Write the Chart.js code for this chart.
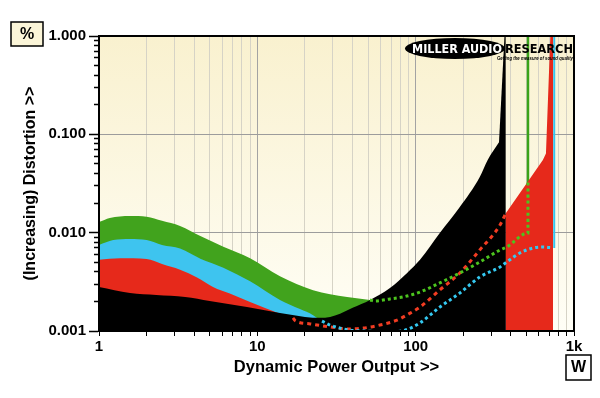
<!DOCTYPE html>
<html><head><meta charset="utf-8">
<script src="https://cdn.jsdelivr.net/npm/chart.js@4.4.1/dist/chart.umd.min.js"></script>
<style>html,body{margin:0;padding:0;background:#fff;}#wrap{width:600px;height:398px;}</style>
</head><body><div id="wrap"><canvas id="c" width="600" height="398"></canvas></div>
<script>
// ---- data (power in W, distortion in %) ----
const blackW   = [1, 1.57, 2.3, 3.5, 5.0, 8.6, 13.9, 20, 24.9, 28.8, 33.3, 40, 51.5, 68.8, 88.3, 106.5, 142, 190, 254, 285, 336, 366, 371];
const blackPct = [0.0028, 0.00243, 0.00232, 0.00222, 0.00202, 0.00175, 0.00152, 0.00139, 0.00136, 0.00139, 0.0015, 0.00172, 0.00207, 0.00274, 0.0039, 0.0053, 0.0099, 0.0182, 0.0368, 0.0548, 0.083, 1.2, 1.2];

const redW   = [1, 1.36, 2.0, 2.5, 3.25, 4.16, 5.25, 6.7, 9.0, 13.9, 16.8, 17.3, 21.6, 28.8, 36.9, 46.5, 59.5, 76.2, 92.3, 106.5, 142, 190, 254, 341, 371, 636, 665, 712, 737];
const redPct = [0.0053, 0.0055, 0.0054, 0.0048, 0.0042, 0.0035, 0.0028, 0.0024, 0.00197, 0.0015, 0.00136, 0.00128, 0.00118, 0.0011, 0.00105, 0.00107, 0.00115, 0.00129, 0.00152, 0.00175, 0.00261, 0.00389, 0.00667, 0.01196, 0.0158, 0.0548, 0.064, 1.2, 1.2];

const cyanW   = [1, 1.23, 1.57, 2.0, 2.5, 3.25, 4.4, 6.1, 9.0, 13.9, 18.6, 22.5, 25.6, 28.8, 33.3, 38.5, 47.7, 68.8, 85.6, 106.5, 142, 190, 254, 341, 376, 455, 551, 636, 737];
const cyanPct = [0.0075, 0.0084, 0.0086, 0.0084, 0.0075, 0.0069, 0.0054, 0.0044, 0.0032, 0.00207, 0.00167, 0.00145, 0.00126, 0.00115, 0.00107, 0.00102, 0.001, 0.00098, 0.00102, 0.00121, 0.00175, 0.00243, 0.00354, 0.00448, 0.00503, 0.00621, 0.00698, 0.00715, 0.00698];

const greenW   = [1, 1.17, 1.57, 2.0, 2.5, 3.25, 4.4, 6.1, 9.0, 13.9, 22.5, 36.9, 51.5, 55.3, 68.8, 83.3, 106.5, 142, 190, 254, 341, 376, 512];
const greenPct = [0.0128, 0.0141, 0.0148, 0.0145, 0.0132, 0.0117, 0.0092, 0.0072, 0.0055, 0.0036, 0.0026, 0.00222, 0.00207, 0.00202, 0.00212, 0.00222, 0.00249, 0.00308, 0.00389, 0.00503, 0.00667, 0.00715, 0.00993];

// limits / clipping points (W) and where each curve is hidden behind another
const blackEdgeW = 371, blackSpikeFromW = 336;
const greenLimitW = 512, greenHiddenTopPct = 0.033, greenHiddenFromW = 51.5;
const cyanLimitW = 750, cyanHiddenFromW = 25.6;
const redHiddenFromW = 16.8;
const spikeTopPct = 1.2;

// ticks
const xMajorTicks = [1, 10, 100, 1000];
const xTickLabels = ['1', '10', '100', '1k'];
const yMajorTicks = [0.001, 0.01, 0.1, 1];
const yTickLabels = ['0.001', '0.010', '0.100', '1.000'];

// ---- build ----
const pts = (W, P) => W.map((w, i) => ({x: w, y: P[i]}));
const minorTicks = majors => {
  const out = [];
  majors.forEach((m, k) => {
    if (k === majors.length - 1) { out.push(m); return; }
    for (let s = 1; s <= 9; s++) out.push(+(m * s).toPrecision(6));
  });
  return out;
};
const xAll = minorTicks(xMajorTicks), yAll = minorTicks(yMajorTicks);
const isDecade = v => v != null && Math.abs(Math.log10(v) - Math.round(Math.log10(v))) < 1e-6;
const labelFor = (majors, labels, v) => {
  const i = majors.findIndex(m => Math.abs(m - v) < 1e-6 * m);
  return i >= 0 ? labels[i] : '';
};

const fillDs = (label, data, color, order, smooth) => ({
  label, data, borderWidth: 0, borderColor: 'transparent', backgroundColor: color,
  fill: 'start', pointRadius: 0, tension: 0,
  cubicInterpolationMode: smooth ? 'monotone' : 'default', order, clip: 0
});
const lineDs = (label, data, color, width, dash, order) => ({
  label, data, borderColor: color, borderWidth: width, borderDash: dash, borderCapStyle: 'butt',
  fill: false, pointRadius: 0, cubicInterpolationMode: 'monotone', order, clip: 0
});

const blackAll = pts(blackW, blackPct), redAll = pts(redW, redPct);
const blackCurve = blackAll.filter(p => p.x <= blackSpikeFromW);
const blackSpike = blackAll.filter(p => p.x >= blackSpikeFromW);
const redCurve = redAll.filter(p => p.x <= blackEdgeW);
const redTail = redAll.filter(p => p.x >= blackEdgeW);

const redDotted = redAll.filter(p => p.x >= redHiddenFromW && p.x <= blackEdgeW);
const greenDotted = pts(greenW, greenPct).filter(p => p.x >= greenHiddenFromW).concat([{x: greenLimitW, y: greenHiddenTopPct}]);
const cyanDotted = pts(cyanW, cyanPct).filter(p => p.x >= cyanHiddenFromW);
const greenSpike = [{x: greenLimitW, y: greenPct[greenPct.length - 1]}, {x: greenLimitW, y: spikeTopPct}];
const cyanSpike = [{x: cyanLimitW, y: cyanPct[cyanPct.length - 1]}, {x: cyanLimitW, y: spikeTopPct}];

const FONT = '"Liberation Sans", Arial, sans-serif';

function fitText(ctx, txt, x, y, w, font, color) {
  ctx.save();
  ctx.font = font;
  const m = ctx.measureText(txt).width;
  ctx.translate(x, y);
  ctx.scale(w / m, 1);
  ctx.fillStyle = color;
  ctx.textBaseline = 'alphabetic';
  ctx.textAlign = 'left';
  ctx.fillText(txt, 0, 0);
  ctx.restore();
}

const decor = {
  id: 'decor',
  beforeDraw(chart) {
    const {ctx, chartArea: a} = chart;
    ctx.save();
    ctx.fillStyle = '#fff';
    ctx.fillRect(0, 0, chart.width, chart.height);
    const g = ctx.createLinearGradient(0, a.top, 0, a.bottom);
    g.addColorStop(0, '#f9f1cf');
    g.addColorStop(1, '#fffef6');
    ctx.fillStyle = g;
    ctx.fillRect(a.left, a.top, a.right - a.left, a.bottom - a.top);
    ctx.restore();
  },
  afterDraw(chart) {
    const {ctx, chartArea: a} = chart;
    ctx.save();
    // frame
    ctx.strokeStyle = '#000';
    ctx.lineWidth = 2;
    ctx.strokeRect(a.left, a.top, a.right - a.left, a.bottom - a.top);
    // logo
    ctx.fillStyle = '#000';
    ctx.beginPath();
    ctx.ellipse(455, 48.5, 50, 10.5, 0, 0, Math.PI * 2);
    ctx.fill();
    fitText(ctx, 'MILLER AUDIO', 412, 53, 90, 'bold 12px "DejaVu Sans", sans-serif', '#fff');
    fitText(ctx, 'RESEARCH', 505, 53, 68, 'bold 12px "DejaVu Sans", sans-serif', '#000');
    fitText(ctx, 'Getting the measure of sound quality', 497, 59.5, 76, 'italic bold 5px ' + FONT, '#000');
    // % box
    ctx.fillStyle = '#fbf5d8';
    ctx.fillRect(11, 22, 32, 24);
    ctx.lineWidth = 1.5;
    ctx.strokeRect(11, 22, 32, 24);
    ctx.fillStyle = '#000';
    ctx.font = 'bold 16px ' + FONT;
    ctx.textAlign = 'center';
    ctx.textBaseline = 'middle';
    ctx.fillText('%', 27, 34.5);
    // W box
    ctx.fillStyle = '#fff';
    ctx.fillRect(566, 355, 25, 25);
    ctx.strokeRect(566, 355, 25, 25);
    ctx.fillStyle = '#000';
    ctx.fillText('W', 578.5, 368);
    ctx.restore();
  }
};

new Chart(document.getElementById('c'), {
  type: 'line',
  data: {
    datasets: [
      fillDs('green', pts(greenW, greenPct), '#41a31d', 10, true),
      lineDs('green limit', greenSpike, '#3aa31a', 2.5, [], 9),
      fillDs('cyan', pts(cyanW, cyanPct), '#3ec4ef', 8, true),
      lineDs('cyan limit', cyanSpike, '#36c3ef', 2, [], 7),
      fillDs('red', redCurve, '#e6291b', 6.5, true),
      fillDs('red tail', redTail, '#e6291b', 6, false),
      fillDs('black', blackCurve, '#000000', 5.5, true),
      fillDs('black spike', blackSpike, '#000000', 5, false),
      lineDs('red hidden', redDotted, '#f23c22', 3, [4, 4], 3),
      lineDs('green hidden', greenDotted, '#4cc41e', 3, [3, 3], 2),
      lineDs('cyan hidden', cyanDotted, '#34c8f0', 3, [3, 3], 1)
    ]
  },
  plugins: [decor],
  options: {
    responsive: false,
    animation: false,
    devicePixelRatio: 1,
    events: [],
    layout: {padding: {top: 36, right: 26, left: 0, bottom: 0}, autoPadding: false},
    plugins: {legend: {display: false}, tooltip: {enabled: false}},
    scales: {
      x: {
        type: 'logarithmic', min: 1, max: 1000,
        afterBuildTicks: s => { s.ticks = xAll.map(v => ({value: v})); },
        afterFit: s => { s.height = 67; },
        border: {display: true, color: '#000', width: 2},
        grid: {
          color: c => isDecade(c.tick && c.tick.value) ? '#a3a3a3' : '#d6d3c6',
          lineWidth: 1, drawTicks: true, tickLength: 5, tickColor: '#000', tickWidth: 1
        },
        ticks: {
          autoSkip: false, maxRotation: 0, minRotation: 0, padding: 2, color: '#000',
          font: {family: FONT, size: 15, weight: 'bold'},
          callback: v => labelFor(xMajorTicks, xTickLabels, v)
        },
        title: {
          display: true, text: 'Dynamic Power Output >>', color: '#000',
          font: {family: FONT, size: 16.5, weight: 'bold'}, padding: {top: 0, bottom: 21}
        }
      },
      y: {
        type: 'logarithmic', min: 0.001, max: 1,
        afterBuildTicks: s => { s.ticks = yAll.map(v => ({value: v})); },
        afterFit: s => { s.width = 99; },
        border: {display: true, color: '#000', width: 2},
        grid: {
          color: c => isDecade(c.tick && c.tick.value) ? '#9c9c9c' : 'rgba(0,0,0,0)',
          lineWidth: 1, drawTicks: true, tickLength: 10, tickColor: '#000', tickWidth: 1.5,
          tickBorderDash: c => isDecade(c.tick && c.tick.value) ? [] : [0, 5, 4, 20]
        },
        ticks: {
          autoSkip: false, padding: 3, color: '#000',
          font: {family: FONT, size: 15, weight: 'bold'},
          callback: v => labelFor(yMajorTicks, yTickLabels, v)
        },
        title: {
          display: true, text: '(Increasing) Distortion >>', color: '#000',
          font: {family: FONT, size: 16, weight: 'bold'}, padding: {top: 21, bottom: 0}
        }
      }
    }
  }
});
</script>
</body></html>
